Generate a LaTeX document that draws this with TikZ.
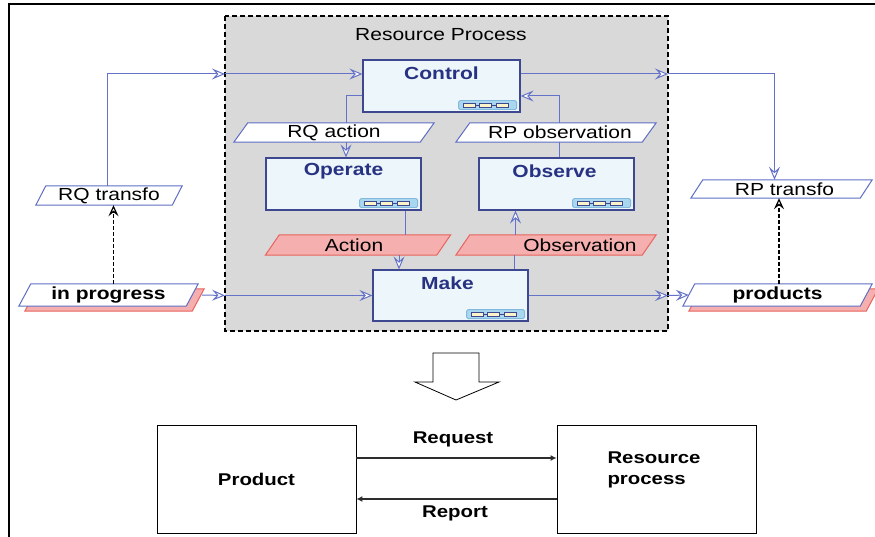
\documentclass[tikz,border=0pt]{standalone}
\usepackage{fontspec}
\setmainfont[FakeStretch=1.2]{Liberation Sans}
\usetikzlibrary{arrows.meta,calc}
\pgfdeclarelayer{bgl}\pgfdeclarelayer{pl}
\pgfsetlayers{bgl,pl,main}
\definecolor{connc}{RGB}{100,115,200}
\definecolor{boxc}{RGB}{62,72,145}
\definecolor{boxf}{RGB}{236,246,251}
\definecolor{ttlc}{RGB}{40,50,130}
\definecolor{grayf}{RGB}{217,217,217}
\definecolor{parac}{RGB}{95,110,195}
\definecolor{redf}{RGB}{245,175,175}
\definecolor{redc}{RGB}{232,100,95}
\definecolor{iconf}{RGB}{170,215,240}
\definecolor{iconc}{RGB}{130,185,220}
\definecolor{icony}{RGB}{252,244,200}
\definecolor{darkc}{RGB}{45,45,45}
\newcommand\drawpara[3]{%
  \begin{pgfonlayer}{pl}
  \path[#2] ([xshift=-#3]#1.south west) -- ([xshift=#3]#1.north west) -- ([xshift=#3]#1.north east) -- ([xshift=-#3]#1.south east) -- cycle;
  \end{pgfonlayer}}
\newcommand\drawparashadow[3]{%
  \begin{pgfonlayer}{pl}
  \path[#2] ([xshift={-#3+6pt},yshift=-5pt]#1.south west) -- ([xshift={#3+6pt},yshift=-5pt]#1.north west) -- ([xshift={#3+6pt},yshift=-5pt]#1.north east) -- ([xshift={-#3+6pt},yshift=-5pt]#1.south east) -- cycle;
  \end{pgfonlayer}}
\newcommand\boxicon[1]{%
  \begin{scope}[shift={([xshift=-4pt,yshift=3pt]#1.south east)}]
  \draw[fill=iconf,draw=iconc,line width=0.8pt,rounded corners=1.5pt] (-58,-9) rectangle (0,0);
  \draw[boxc,line width=0.6pt] (-53,-4.5) -- (-8,-4.5);
  \foreach \a in {-53,-37,-20}{\draw[fill=icony,draw=boxc,line width=0.6pt] (\a,-6.5) rectangle ++(12,4);}
  \end{scope}}
\begin{document}
\begin{tikzpicture}[x=1pt,y=-1pt,
  conn/.style={draw=connc, line width=1pt, -{Stealth[open,fill=white,length=13pt,width=11pt,inset=5pt]}},
  connl/.style={draw=connc, line width=1pt},
  dasharr/.style={draw=black, line width=1.2pt, dash pattern=on 4pt off 2pt, -{Stealth[open,fill=white,length=11pt,width=10pt,inset=4pt,sep=0pt]}},
  pbox/.style={draw=boxc, fill=boxf, line width=1.2pt, minimum width=155pt, minimum height=52pt, inner sep=0},
  ttl/.style={text=ttlc, font=\bfseries\fontsize{17.5}{21}\selectfont, inner sep=0},
  plbl/.style={inner sep=0, font=\fontsize{17.5}{21}\selectfont},
  bplbl/.style={inner sep=0, font=\bfseries\fontsize{17.5}{21}\selectfont},
  whitep/.style={draw=parac, fill=white, line width=1pt},
  redp/.style={draw=redc, fill=redf, line width=1pt},
  sbox/.style={draw=black, line width=0.8pt, minimum width=199pt, minimum height=108pt, inner sep=0},
  stxt/.style={inner sep=0, font=\bfseries\fontsize{17}{21}\selectfont},
  barr/.style={draw=darkc, line width=1.8pt, -{Latex[length=6pt,width=6pt]}}
]
\useasboundingbox (0,0) rectangle (875,537);
% outer frame
\draw[line width=2.5pt] (9,537) -- (9,4) -- (875,4);
% resource process area
\begin{pgfonlayer}{bgl}
\draw[fill=grayf, draw=black, line width=1.8pt, dash pattern=on 5pt off 3pt] (225,16) rectangle (668,331);
\end{pgfonlayer}
\node[plbl] (rptitle) at (441,35) {Resource Process};
% process boxes
\node[pbox, minimum width=157pt] (ctl) at (441.5,86) {};
\node[pbox] (ope) at (343.5,184) {};
\node[pbox] (obs) at (556.5,184) {};
\node[pbox, minimum height=51pt] (mak) at (450.5,295.5) {};
\node[ttl] (ctlT) at ([yshift=-14pt]ctl.north) {Control};
\node[ttl] (opeT) at ([yshift=-14pt]ope.north) {Operate};
\node[ttl] (obsT) at ([xshift=-2pt,yshift=-14pt]obs.north) {Observe};
\node[ttl] (makT) at ([xshift=-3pt,yshift=-14pt]mak.north) {Make};
\boxicon{ctl}\boxicon{ope}\boxicon{obs}\boxicon{mak}
% parallelograms
\node[plbl, minimum width=186pt, minimum height=19pt] (rqa) at (334,132.5) {RQ action};
\drawpara{rqa}{whitep}{7pt}
\node[plbl, minimum width=186pt, minimum height=19pt] (rpo) at (556,132.5) {\hspace*{8pt}RP observation};
\drawpara{rpo}{whitep}{7pt}
\node[plbl, minimum width=136pt, minimum height=19pt] (rqt) at (109,195.5) {RQ transfo};
\drawpara{rqt}{whitep}{5pt}
\node[plbl, minimum width=169pt, minimum height=18pt] (rpt) at (781.5,189) {\hspace*{6pt}RP transfo};
\drawpara{rpt}{whitep}{6pt}
\node[plbl, minimum width=171pt, minimum height=20pt] (act) at (358,245) {Action\hspace*{8pt}};
\drawpara{act}{redp}{7pt}
\node[plbl, minimum width=186pt, minimum height=20pt] (obv) at (556,245) {\hspace*{48pt}Observation};
\drawpara{obv}{redp}{7pt}
\node[bplbl, minimum width=167pt, minimum height=22pt] (inp) at (108.5,295) {in progress};
\drawparashadow{inp}{redp}{6pt}
\drawpara{inp}{whitep}{6pt}
\node[bplbl, minimum width=177pt, minimum height=22pt] (prd) at (777.5,295) {products};
\drawparashadow{prd}{redp}{6pt}
\drawpara{prd}{whitep}{6pt}
% boundary coordinates
\coordinate (bL1) at (225,74);
\coordinate (bR1) at (668,74);
\coordinate (bL2) at (225,295.5);
\coordinate (bR2) at (668,295.5);
% connectors
\draw[conn] ([xshift=-2pt]rqt.north) |- (bL1);
\draw[conn] (bL1) -- (bL1 -| ctl.west);
\draw[conn] (bR1 -| ctl.east) -- (bR1);
\draw[conn] (bR1) -| ([xshift=-7pt]rpt.north);
\draw[connl] ([yshift=-10pt]ctl.west) -| ([xshift=12pt]rqa.north);
\draw[conn] ([xshift=12pt]rqa.south) -- ([xshift=12pt]rqa.south |- ope.north);
\draw[connl] ([xshift=61.5pt]ope.south) -- ([xshift=61.5pt]ope.south |- act.north);
\draw[conn] ([xshift=-51.5pt]mak.north |- act.south) -- ([xshift=-51.5pt]mak.north);
\draw[connl] ([xshift=64pt]mak.north) -- ([xshift=64pt]mak.north |- obv.south);
\draw[conn] ([xshift=-41pt]obs.south |- obv.north) -- ([xshift=-41pt]obs.south);
\draw[connl] ([xshift=2.5pt]obs.north) -- ([xshift=2.5pt]obs.north |- rpo.south);
\draw[conn] ([xshift=3pt]rpo.north) |- ([yshift=-10pt]ctl.east);
\draw[conn] ([xshift=10pt]inp.east) -- (bL2);
\draw[conn] (bL2) -- (mak.west);
\draw[conn] (mak.east) -- (bR2);
\draw[conn] (bR2) -- (prd.west);
\draw[dasharr] ([xshift=5pt]inp.north) -- ([xshift=5pt]inp.north |- rqt.south);
\draw[dasharr] ([xshift=1.5pt]prd.north) -- ([xshift=1.5pt]prd.north |- rpt.south);
% hollow arrow
\draw[line width=0.8pt, fill=white] (433,353) -- (479,353) -- (479,382) -- (499,382) -- (456,400) -- (415,382) -- (433,382) -- cycle;
% bottom boxes
\node[sbox] (prod) at (256.5,479) {};
\node[sbox] (res) at (656.5,479) {};
\node[stxt] (prodT) at (256.5,479) {Product};
\node[stxt, align=left] (resT) at (654,470) {Resource\\process};
\draw[barr] ([yshift=21pt]prod.east) -- ([yshift=21pt]res.west);
\draw[barr] ([yshift=-20pt]res.west) -- ([yshift=-20pt]prod.east);
\node[stxt] (req) at (453,439) {Request};
\node[stxt] (rep) at (455,513) {Report};
\end{tikzpicture}
\end{document}
